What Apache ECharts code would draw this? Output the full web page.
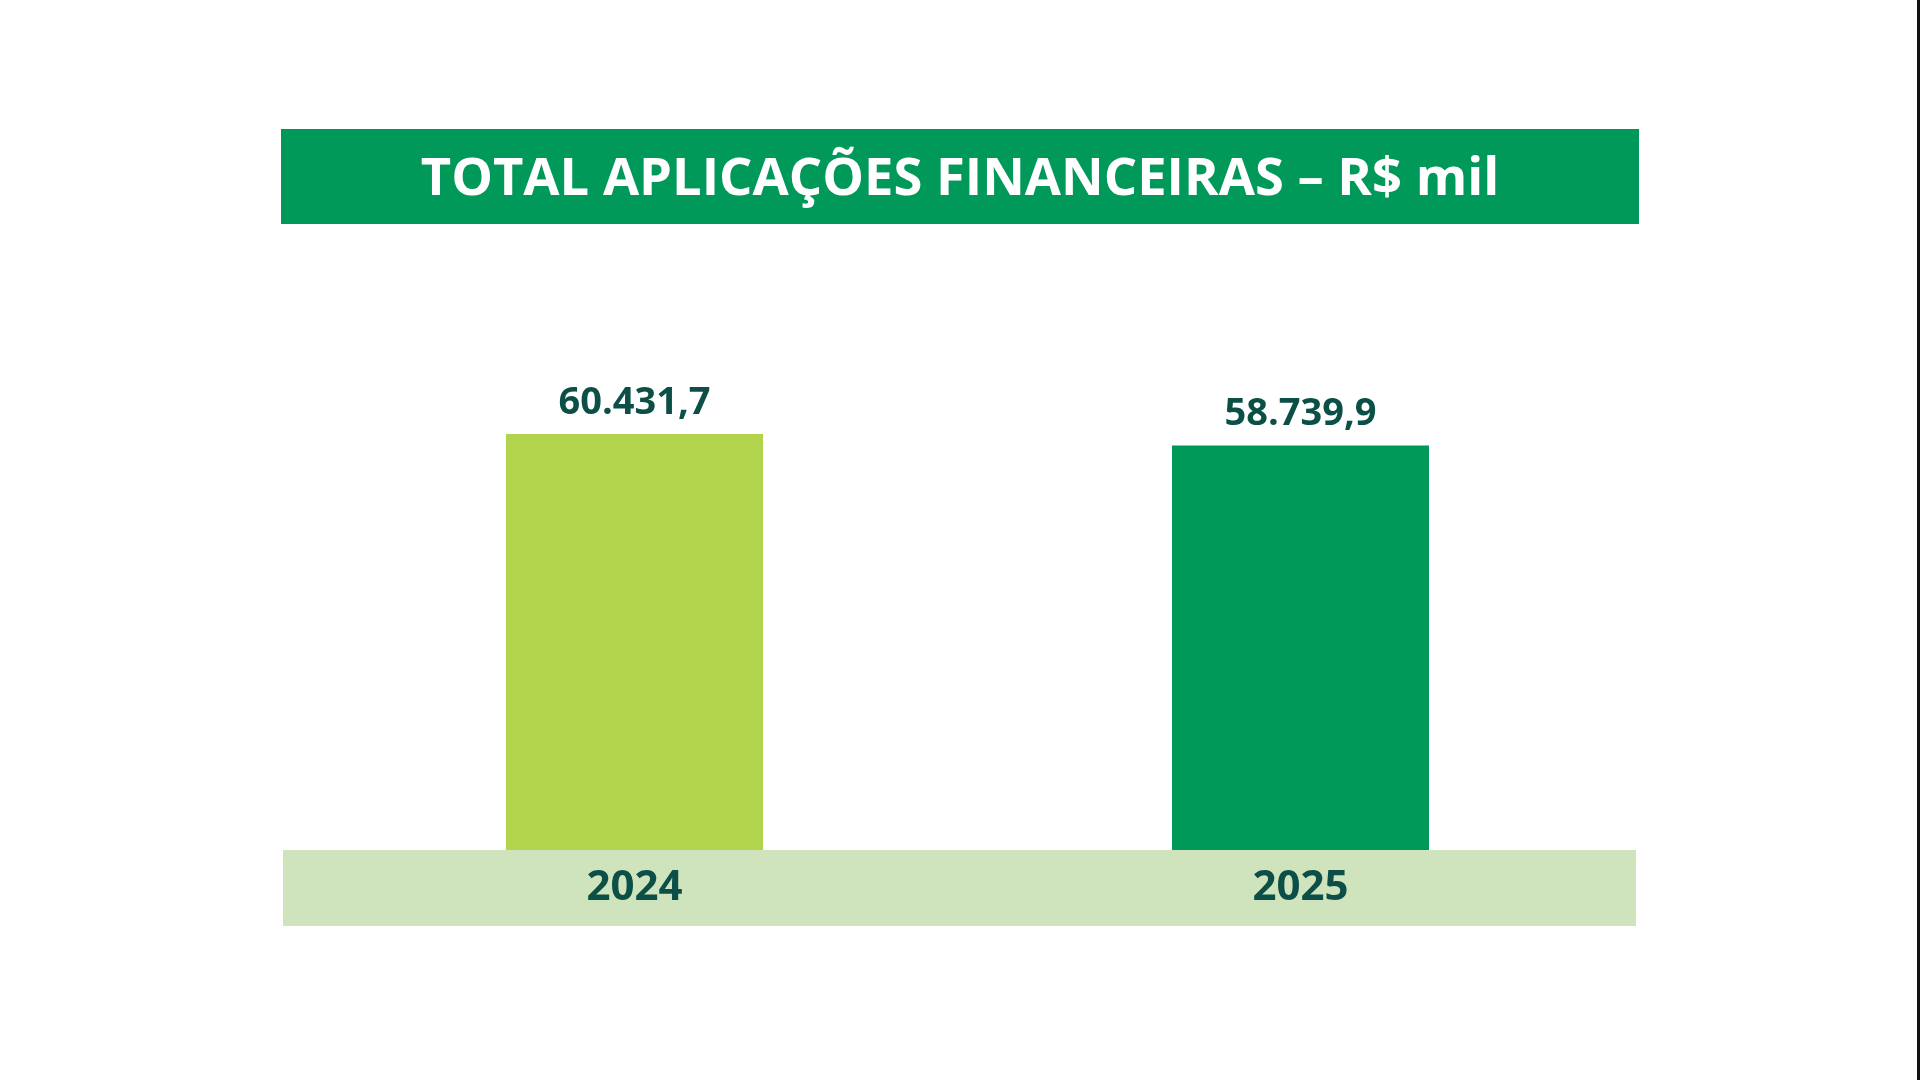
<!DOCTYPE html>
<html>
<head>
<meta charset="utf-8">
<script src="https://cdn.jsdelivr.net/npm/echarts@6/dist/echarts.min.js"></script>
<style>
  html, body { margin: 0; padding: 0; background: #fff; }
  #chart { width: 1920px; height: 1080px; }
</style>
</head>
<body>
<div id="chart"></div>
<script>
const titleText = 'TOTAL APLICAÇÕES FINANCEIRAS – R$ mil'
const years = ['2024', '2025']
const values = [60431.7, 58739.9]
const barColors = ['#b2d44c', '#009959']

const fontFamily = '"Open Sans", "Noto Sans", sans-serif'
const darkText = '#0b4f47'

// 60431.7 -> "60.431,7"
const fmtBR = (v) => {
	const parts = v.toFixed(1).split('.')
	const int = parts[0].replace(/\B(?=(\d{3})+(?!\d))/g, '.')
	return int + ',' + parts[1]
}

const myChart = echarts.init(document.getElementById('chart'))
const option = {
	backgroundColor: '#ffffff',
	animation: false,
	title: {
		text: titleText,
		left: 'center',
		top: 149,
		textStyle: {
			color: '#ffffff',
			fontSize: 52.5,
			fontWeight: 'bold',
			fontFamily: fontFamily
		}
	},
	graphic: [
		{
			type: 'rect',
			z: -10,
			shape: { x: 281, y: 129, width: 1358, height: 95 },
			style: { fill: '#009959' }
		},
		{
			type: 'rect',
			z: -10,
			shape: { x: 283, y: 850, width: 1353, height: 76 },
			style: { fill: '#cfe3bd' }
		},
		{
			type: 'rect',
			z: -10,
			shape: { x: 1917, y: 0, width: 3, height: 1080 },
			style: { fill: '#111111' }
		}
	],
	grid: {
		left: 301.5,
		width: 1332,
		bottom: 230,
		top: 368.1,
		containLabel: false
	},
	xAxis: {
		type: 'category',
		data: years,
		axisLine: { show: false },
		axisTick: { show: false },
		axisLabel: {
			margin: 17,
			color: darkText,
			fontSize: 42,
			fontWeight: 'bold',
			fontFamily: fontFamily
		}
	},
	yAxis: {
		type: 'value',
		min: 0,
		max: 70000,
		show: false,
		splitLine: { show: false }
	},
	series: [
		{
			type: 'bar',
			barWidth: 257,
			data: values.map((v, i) => ({ value: v, itemStyle: { color: barColors[i] } })),
			label: {
				show: true,
				position: 'top',
				distance: 12,
				color: darkText,
				fontSize: 38,
				fontWeight: 'bold',
				fontFamily: fontFamily,
				formatter: (p) => fmtBR(p.value)
			}
		}
	]
}
myChart.setOption(option)
</script>
</body>
</html>
